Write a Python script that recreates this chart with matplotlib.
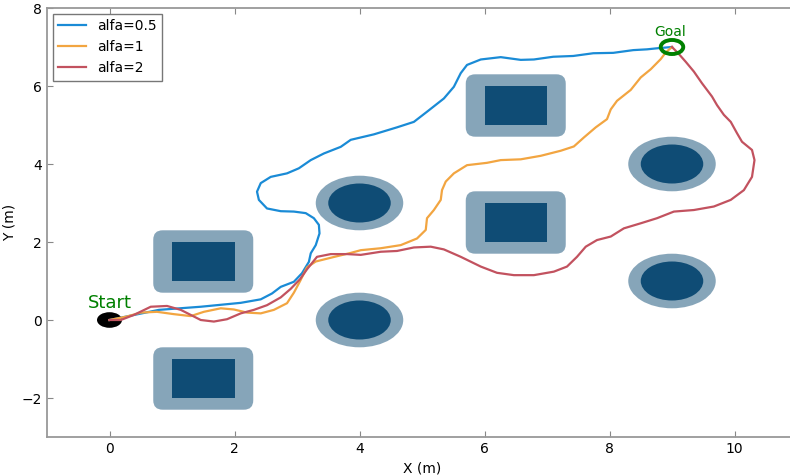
import numpy as np
import matplotlib
matplotlib.use("Agg")
import matplotlib.pyplot as plt
from matplotlib.patches import Circle, FancyBboxPatch, Rectangle

# obstacles: square ones (lower-left corner of core, side 1) and round ones (centre)
SQUARE_OBS = [(1, 1), (1, -2), (6, 5), (6, 2)]
ROUND_OBS = [(4, 3), (4, 0), (9, 4), (9, 1)]
CORE_SIZE = 1.0
MARGIN = 0.3
ROUND_R = 0.5

START = (0, 0)
GOAL = (9, 7)

# trajectories for the three alfa values
path_a05_x = [0, 0.79, 1.46, 2.10, 2.42, 2.60, 2.74, 2.95, 3.08, 3.19, 3.22, 3.30, 3.36, 3.35,
              3.27, 3.14, 2.95, 2.74, 2.52, 2.39, 2.36, 2.42, 2.58, 2.84, 3.03, 3.22, 3.43,
              3.70, 3.86, 4.23, 4.60, 4.87, 5.08, 5.35, 5.51, 5.62, 5.72, 5.94, 6.26, 6.58,
              6.79, 7.10, 7.42, 7.74, 8.06, 8.38, 8.60, 8.78, 9.0]
path_a05_y = [0, 0.26, 0.34, 0.44, 0.53, 0.68, 0.85, 0.98, 1.20, 1.49, 1.71, 1.92, 2.22, 2.44,
              2.61, 2.74, 2.78, 2.79, 2.86, 3.08, 3.29, 3.51, 3.67, 3.76, 3.89, 4.10, 4.27,
              4.44, 4.62, 4.76, 4.94, 5.08, 5.34, 5.68, 5.98, 6.33, 6.54, 6.68, 6.74, 6.67,
              6.68, 6.75, 6.77, 6.84, 6.85, 6.92, 6.94, 6.97, 7.0]

path_a1_x = [0, 0.28, 0.50, 0.76, 1.03, 1.30, 1.51, 1.78, 1.99, 2.20, 2.42, 2.63, 2.84, 2.95,
             3.05, 3.16, 3.30, 3.60, 3.86, 4.02, 4.34, 4.66, 4.92, 5.06, 5.08, 5.19, 5.30,
             5.32, 5.38, 5.51, 5.72, 6.04, 6.26, 6.58, 6.90, 7.22, 7.43, 7.59, 7.78, 7.96,
             8.02, 8.12, 8.34, 8.50, 8.66, 8.82, 8.90, 9.0]
path_a1_y = [0, 0.09, 0.19, 0.21, 0.15, 0.10, 0.21, 0.30, 0.27, 0.19, 0.17, 0.26, 0.43, 0.70,
             1.00, 1.35, 1.50, 1.62, 1.72, 1.79, 1.84, 1.92, 2.09, 2.31, 2.61, 2.82, 3.08,
             3.33, 3.55, 3.76, 3.97, 4.03, 4.10, 4.12, 4.21, 4.34, 4.45, 4.68, 4.94, 5.15,
             5.40, 5.62, 5.90, 6.22, 6.43, 6.69, 6.86, 7.0]

path_a2_x = [0, 0.18, 0.39, 0.66, 0.92, 1.14, 1.30, 1.46, 1.67, 1.88, 2.10, 2.31, 2.52, 2.74,
             2.90, 3.05, 3.16, 3.32, 3.54, 3.80, 4.02, 4.34, 4.60, 4.87, 5.14, 5.35, 5.62,
             5.94, 6.20, 6.47, 6.79, 7.11, 7.32, 7.48, 7.62, 7.80, 8.02, 8.23, 8.50, 8.76,
             9.03, 9.35, 9.67, 9.94, 10.15, 10.28, 10.32, 10.28, 10.12, 10.04, 9.94, 9.83,
             9.72, 9.64, 9.48, 9.35, 9.22, 9.11, 9.0]
path_a2_y = [0, 0.0, 0.13, 0.34, 0.36, 0.26, 0.13, 0.0, -0.04, 0.02, 0.17, 0.26, 0.38, 0.58,
             0.80, 1.05, 1.30, 1.62, 1.69, 1.69, 1.67, 1.75, 1.77, 1.86, 1.88, 1.81, 1.62,
             1.37, 1.21, 1.15, 1.15, 1.24, 1.37, 1.62, 1.88, 2.05, 2.14, 2.35, 2.48, 2.61,
             2.78, 2.82, 2.91, 3.08, 3.33, 3.67, 4.10, 4.36, 4.57, 4.79, 5.08, 5.26,
             5.51, 5.73, 6.07, 6.37, 6.62, 6.82, 7.0]

PATHS = [
    ("alfa=0.5", path_a05_x, path_a05_y, "#1a8bd6"),
    ("alfa=1", path_a1_x, path_a1_y, "#f2a541"),
    ("alfa=2", path_a2_x, path_a2_y, "#c2525f"),
]

OBS_COLOR = "#0f4c75"

fig = plt.figure(figsize=(7.9, 4.75), dpi=100)
ax = fig.add_axes([47 / 790, 38 / 475, 750 / 790, 429 / 475])

# obstacles: pale margin + dark core
for (x0, y0) in SQUARE_OBS:
    ax.add_patch(FancyBboxPatch((x0 - MARGIN, y0 - MARGIN), CORE_SIZE + 2 * MARGIN,
                                CORE_SIZE + 2 * MARGIN,
                                boxstyle="round,pad=0,rounding_size=0.15",
                                mutation_aspect=1.6,
                                facecolor=OBS_COLOR, alpha=0.5, edgecolor="none", zorder=1))
    ax.add_patch(Rectangle((x0, y0), CORE_SIZE, CORE_SIZE,
                           facecolor=OBS_COLOR, edgecolor="none", zorder=2))
for (cx, cy) in ROUND_OBS:
    ax.add_patch(Circle((cx, cy), ROUND_R + 0.2, facecolor=OBS_COLOR, alpha=0.5,
                        edgecolor="none", zorder=1))
    ax.add_patch(Circle((cx, cy), ROUND_R, facecolor=OBS_COLOR, edgecolor="none", zorder=2))

# start / goal markers
ax.add_patch(Circle(START, 0.2, facecolor="black", edgecolor="none", zorder=3))
ax.text(START[0], START[1] + 0.2, "Start", color="green", fontsize=13,
        ha="center", va="bottom")

for label, xs, ys, color in PATHS:
    ax.plot(xs, ys, color=color, lw=1.6, label=label, zorder=4)

ax.add_patch(Circle(GOAL, 0.18, facecolor="none", edgecolor="green", lw=2.8, zorder=5))
ax.text(GOAL[0] - 0.03, GOAL[1] + 0.2, "Goal", color="green", fontsize=10,
        ha="center", va="bottom")

ax.set_xlim(-1, 11)
ax.set_ylim(-3, 8)
ax.set_xticks(np.arange(0, 11, 2))
ax.set_yticks(np.arange(-2, 9, 2))
ax.set_xlabel("X (m)", fontsize=10)
ax.set_ylabel("Y (m)", fontsize=10)
ax.tick_params(direction="in", top=True, right=True, labelsize=10, color="#888888",
               length=4)
for sp in ax.spines.values():
    sp.set_color("#999999")
    sp.set_linewidth(1.3)

leg = ax.legend(loc="upper left", fontsize=10, fancybox=False, framealpha=1,
                borderaxespad=0.4, handlelength=2.0)
leg.get_frame().set_edgecolor("#777777")

fig.savefig("out.png", dpi=100)
